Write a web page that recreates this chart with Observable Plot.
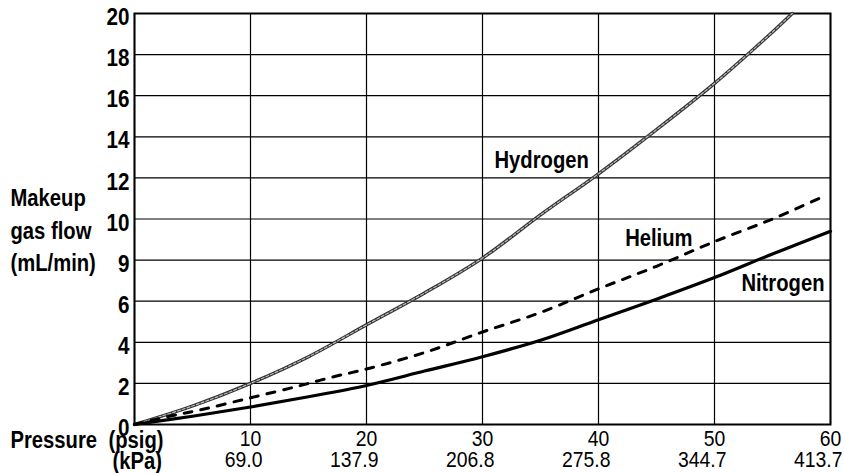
<!DOCTYPE html>
<html>
<head>
<meta charset="utf-8">
<script src="https://cdn.jsdelivr.net/npm/d3@7"></script>
<script src="https://cdn.jsdelivr.net/npm/@observablehq/plot@0.6"></script>
<style>
  html, body { margin: 0; padding: 0; background: #fff; }
  #chart svg { display: block; }
</style>
</head>
<body>
<div id="chart"></div>
<script>
// ---- data ----
const psigTicks = [0, 10, 20, 30, 40, 50, 60];
const psigLabels = ["", "10", "20", "30", "40", "50", "60"];
const kpaLabels = ["", "69.0", "137.9", "206.8", "275.8", "344.7", "413.7"];
const yTicks = [0, 2, 4, 6, 8, 10, 12, 14, 16, 18, 20];
const yTickLabels = ["0", "2", "4", "6", "9", "10", "12", "14", "16", "18", "20"];

const hydrogenX = [0, 5, 10, 15, 20, 25, 30, 35, 40, 45, 50, 55, 56.7];
const hydrogenY = [0, 0.9, 2.0, 3.3, 4.85, 6.4, 8.1, 10.2, 12.2, 14.35, 16.6, 19.1, 20];
const heliumX = [0, 3, 6, 10, 14, 17, 20, 25, 30, 35, 40, 45, 50, 55, 59];
const heliumY = [0, 0.4, 0.75, 1.3, 1.85, 2.3, 2.7, 3.5, 4.5, 5.45, 6.6, 7.7, 8.9, 10.0, 11.0];
const nitrogenX = [0, 5, 10, 15, 20, 25, 30, 35, 40, 45, 50, 55, 60];
const nitrogenY = [0, 0.4, 0.85, 1.35, 1.9, 2.6, 3.3, 4.1, 5.1, 6.1, 7.15, 8.3, 9.4];

const seriesNames = ["Hydrogen", "Helium", "Nitrogen"];
const labelX = [35.1, 45.2, 55.9];
const labelY = [12.5, 8.7, 6.5];

const yTitleLines = ["Makeup", "gas flow", "(mL/min)"];

// ---- build tables ----
const hydrogen = hydrogenX.map((x, i) => ({x, y: hydrogenY[i]}));
const helium = heliumX.map((x, i) => ({x, y: heliumY[i]}));
const nitrogen = nitrogenX.map((x, i) => ({x, y: nitrogenY[i]}));
const labels = seriesNames.map((name, i) => ({name, x: labelX[i], y: labelY[i]}));

const FONT = "'Liberation Sans', Arial, sans-serif";
const FS = 23.5;
const TICK_FS = 22.5;

const chart = Plot.plot({
  width: 844,
  height: 473,
  marginLeft: 134,
  marginRight: 14,
  marginTop: 13,
  marginBottom: 49,
  style: {fontFamily: FONT, color: "#000", background: "#fff"},
  x: {domain: [0, 60]},
  y: {domain: [0, 20]},
  marks: [
    Plot.gridX(psigTicks, {stroke: "#000", strokeOpacity: 1, strokeWidth: 1.2}),
    Plot.gridY(yTicks, {stroke: "#000", strokeOpacity: 1, strokeWidth: 1.2}),
    Plot.frame({stroke: "#000", strokeWidth: 2}),
    Plot.axisY(yTicks, {
      tickSize: 0, tickPadding: 5, fontSize: 24, fontWeight: "bold",
      tickFormat: d => yTickLabels[yTicks.indexOf(d)], dy: 4, label: null
    }),
    Plot.axisX(psigTicks, {
      tickSize: 0, tickPadding: 6, fontSize: TICK_FS,
      tickFormat: d => psigLabels[psigTicks.indexOf(d)], label: null
    }),
    Plot.axisX(psigTicks, {
      tickSize: 0, tickPadding: 27, fontSize: TICK_FS, textAnchor: "end", dx: 12,
      tickFormat: d => kpaLabels[psigTicks.indexOf(d)], label: null
    }),
    // curves
    Plot.line(hydrogen, {x: "x", y: "y", curve: "catmull-rom", stroke: "#333", strokeWidth: 3.4}),
    Plot.line(hydrogen, {x: "x", y: "y", curve: "catmull-rom", stroke: "#bdbdbd", strokeWidth: 1.2, strokeDasharray: "3,2"}),
    Plot.line(helium, {x: "x", y: "y", curve: "catmull-rom", stroke: "#000", strokeWidth: 3, strokeDasharray: "8,9"}),
    Plot.line(nitrogen, {x: "x", y: "y", curve: "catmull-rom", stroke: "#000", strokeWidth: 3.2}),
    // series labels
    Plot.text(labels, {x: "x", y: "y", text: "name", lineAnchor: "bottom", fontSize: FS, fontWeight: "bold", fill: "#000"}),
    // axis titles
    Plot.text([yTitleLines[0]], {frameAnchor: "top-left", textAnchor: "start", lineAnchor: "bottom",
      dx: -124, dy: 192, fontSize: FS, fontWeight: "bold", fill: "#000"}),
    Plot.text([yTitleLines[1]], {frameAnchor: "top-left", textAnchor: "start", lineAnchor: "bottom",
      dx: -124, dy: 225, fontSize: FS, fontWeight: "bold", fill: "#000"}),
    Plot.text([yTitleLines[2]], {frameAnchor: "top-left", textAnchor: "start", lineAnchor: "bottom",
      dx: -124, dy: 257, fontSize: FS, fontWeight: "bold", fill: "#000"}),
    Plot.text(["Pressure"], {frameAnchor: "bottom-left", textAnchor: "start", lineAnchor: "bottom",
      dx: -124, dy: 23, fontSize: FS, fontWeight: "bold", fill: "#000"}),
    Plot.text(["(psig)"], {frameAnchor: "bottom-left", textAnchor: "start", lineAnchor: "bottom",
      dx: -26, dy: 23, fontSize: FS, fontWeight: "bold", fill: "#000"}),
    Plot.text(["(kPa)"], {frameAnchor: "bottom-left", textAnchor: "start", lineAnchor: "bottom",
      dx: -22, dy: 44, fontSize: FS, fontWeight: "bold", fill: "#000"})
  ]
});
document.getElementById("chart").appendChild(chart);

// condense glyphs horizontally to mimic the narrow typeface of the original
const SQUEEZE = 0.86;
chart.querySelectorAll("text").forEach(t => {
  const spans = t.querySelectorAll("tspan");
  const targets = spans.length ? Array.from(spans) : [t];
  targets.forEach(el => {
    const len = el.getComputedTextLength();
    if (len > 0) {
      el.setAttribute("textLength", (len * SQUEEZE).toFixed(2));
      el.setAttribute("lengthAdjust", "spacingAndGlyphs");
    }
  });
});
</script>
</body>
</html>
